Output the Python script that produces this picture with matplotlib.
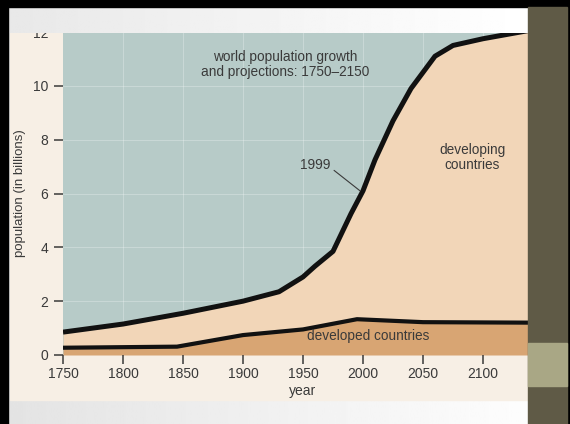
import numpy as np
import matplotlib.pyplot as plt
from matplotlib.patches import Rectangle

plt.rcParams["font.family"] = ["Liberation Sans", "DejaVu Sans"]

# world population (billions)
years_world = [1750, 1800, 1850, 1900, 1930, 1950, 1960, 1975, 1990, 2000,
               2010, 2025, 2040, 2050, 2060, 2075, 2100, 2150]
world = [0.85, 1.15, 1.55, 2.0, 2.35, 2.9, 3.3, 3.85, 5.25, 6.1,
         7.25, 8.7, 9.9, 10.5, 11.1, 11.5, 11.75, 12.15]

# developed countries (billions)
years_dev = [1750, 1845, 1900, 1950, 1995, 2050, 2150]
developed = [0.27, 0.31, 0.74, 0.95, 1.33, 1.22, 1.2]

xticks = [1750, 1800, 1850, 1900, 1950, 2000, 2050, 2100, 2150]
yticks = [0, 2, 4, 6, 8, 10, 12]

sky = "#b7cbc8"
beige = "#f2d6b8"
tan = "#d8a573"
paper = "#f7efe5"
ink = "#3a3a3a"

W, H = 570, 424


def fx(px):
    return px / W


def fy(py):
    return 1 - py / H


fig = plt.figure(figsize=(5.7, 4.24), dpi=100)

# slide background with soft gradient
bg = fig.add_axes([0, 0, 1, 1], zorder=-2)
grad = np.linspace(0.89, 1.0, 256).reshape(1, -1)
bg.imshow(grad, cmap="gray", vmin=0, vmax=1, aspect="auto", extent=[0, 1, 0, 1])
bg.set_axis_off()

# photo paper
fig.patches.append(Rectangle((fx(10), fy(400)), fx(518), 369 / H,
                             transform=fig.transFigure, color=paper, zorder=-1))

ax = fig.add_axes([fx(63), fy(355), 480 / W, 323 / H])
ax.set_facecolor(sky)
ax.set_xlim(1750, 2150)
ax.set_ylim(0, 12)

world_dev = np.interp(years_world, years_dev, developed)
ax.fill_between(years_world, world_dev, world, color=beige, lw=0, zorder=1)
ax.fill_between(years_dev, 0, developed, color=tan, lw=0, zorder=1)
ax.plot(years_world, world, color="#111111", lw=3.6, solid_capstyle="butt",
        solid_joinstyle="round", zorder=3)
ax.plot(years_dev, developed, color="#111111", lw=3.0, solid_capstyle="butt",
        solid_joinstyle="round", zorder=3)

for x in xticks[1:]:
    ax.axvline(x, color="white", lw=0.6, alpha=0.3, zorder=0)
for y in yticks[1:]:
    ax.axhline(y, color="white", lw=0.6, alpha=0.3, zorder=0)

for s in ax.spines.values():
    s.set_visible(False)
ax.set_xticks(xticks)
ax.set_yticks(yticks)
ax.tick_params(axis="both", direction="out", length=6.5, width=1.1, color=ink,
               labelcolor=ink, labelsize=10)
ax.tick_params(axis="y", pad=4)
ax.tick_params(axis="x", pad=2)
ax.set_xlabel("year", fontsize=10, color=ink, labelpad=2)
ax.set_ylabel("population (in billions)", fontsize=9.5, color=ink, labelpad=5)

ax.text(1935, 10.8, "world population growth\nand projections: 1750\u20132150",
        ha="center", va="center", fontsize=9.8, color=ink, linespacing=1.1)
ax.text(2091, 7.35, "developing\ncountries", ha="center", va="center",
        fontsize=9.8, color=ink, linespacing=1.1)
ax.text(2004, 0.72, "developed countries", ha="center", va="center",
        fontsize=9.8, color=ink)
ax.annotate("1999", xy=(1997.5, 6.1), xytext=(1960, 7.05), ha="center", va="center",
            fontsize=9.8, color=ink,
            arrowprops=dict(arrowstyle="-", color=ink, lw=0.8, relpos=(1.0, 0.35),
                            shrinkA=1, shrinkB=0))

# band above the photo (hides the top of the "12" label)
band = fig.add_axes([fx(8), fy(33), 520 / W, 26 / H], zorder=5)
band.imshow(np.linspace(0.91, 1.0, 256).reshape(1, -1), cmap="gray", vmin=0, vmax=1,
            aspect="auto", extent=[0, 1, 0, 1])
band.set_axis_off()

# slide frame
frame = [
    ((0, fy(7)), 1, 7 / H, "#000000"),
    ((0, 0), fx(8), 1, "#000000"),
    ((fx(567), 0), fx(3), 1, "#000000"),
    ((fx(528), 0), fx(39), fy(7), "#5f5a46"),
    ((fx(528), fy(386)), fx(39), 43 / H, "#a9a785"),
]
for xy, w, h, c in frame:
    fig.patches.append(Rectangle(xy, w, h, transform=fig.transFigure, color=c, zorder=10))

fig.savefig("out.png", dpi=100)
